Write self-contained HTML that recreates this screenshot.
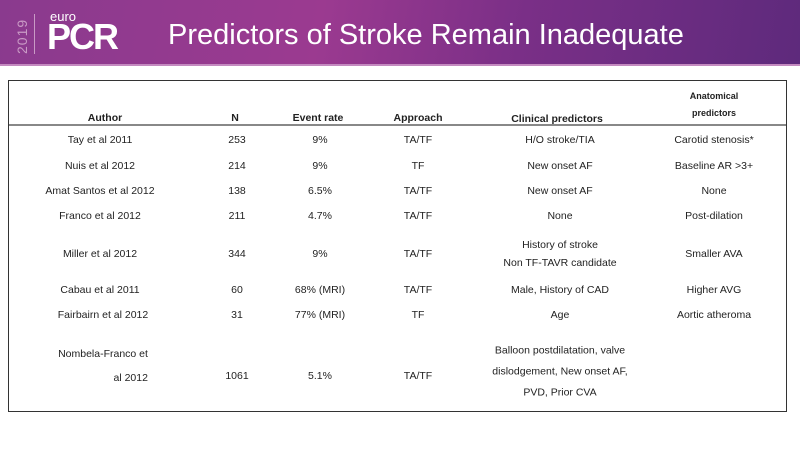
<!DOCTYPE html>
<html><head><meta charset="utf-8"><style>
body{margin:0;width:800px;height:450px;background:#fff;position:relative;overflow:hidden;font-family:"Liberation Sans",sans-serif;}
.ban{position:absolute;left:0;top:0;width:800px;height:66px;background:linear-gradient(100deg,#8a3a8e 0%,#9b3a90 40%,#7a2f87 65%,#5e2a7c 100%);}
.ban:after{content:"";position:absolute;left:0;top:64px;width:800px;height:2px;background:#c48ac0;}
.t{position:absolute;color:#fff;}
.box{position:absolute;left:8px;top:80px;width:779px;height:332px;border:1px solid #333;box-sizing:border-box;}
.c{position:absolute;font-size:10.5px;color:#222;text-align:center;transform:translate(-50%,-50%);white-space:nowrap;line-height:18px;}
.h{font-weight:bold;}
</style></head><body>
<div class="ban">
<div class="t" style="left:14px;font-size:14px;color:#c99ac5;transform:rotate(-90deg);transform-origin:0 0;top:54px;letter-spacing:1px">2019</div>
<div style="position:absolute;left:34px;top:14px;width:1px;height:40px;background:#c99ac5"></div>
<div class="t" style="left:50px;top:9px;font-size:13px">euro</div>
<div class="t" style="left:47px;top:19px;font-size:36px;font-weight:bold;letter-spacing:-2px;line-height:36px">PCR</div>
<div class="t" style="left:168px;top:17px;font-size:29px;font-weight:normal;line-height:36px">Predictors of Stroke Remain Inadequate</div>
</div>
<div class="box"></div>
<div style="position:absolute;left:9px;top:124px;width:777px;height:2px;background:#888"></div>
<div class="c h" style="left:105px;top:118px">Author</div>
<div class="c h" style="left:235px;top:118px">N</div>
<div class="c h" style="left:318px;top:118px">Event rate</div>
<div class="c h" style="left:418px;top:118px">Approach</div>
<div class="c h" style="left:557px;top:119px">Clinical predictors</div>
<div class="c h" style="left:714px;top:105px;font-size:9px;line-height:17px">Anatomical<br>predictors</div>

<div class="c" style="left:100px;top:140px">Tay et al 2011</div><div class="c" style="left:237px;top:140px">253</div><div class="c" style="left:320px;top:140px">9%</div><div class="c" style="left:418px;top:140px">TA/TF</div><div class="c" style="left:560px;top:140px">H/O stroke/TIA</div><div class="c" style="left:714px;top:140px">Carotid stenosis*</div>
<div class="c" style="left:100px;top:166px">Nuis et al 2012</div><div class="c" style="left:237px;top:166px">214</div><div class="c" style="left:320px;top:166px">9%</div><div class="c" style="left:418px;top:166px">TF</div><div class="c" style="left:560px;top:166px">New onset AF</div><div class="c" style="left:714px;top:166px">Baseline AR &gt;3+</div>
<div class="c" style="left:100px;top:191px">Amat Santos et al 2012</div><div class="c" style="left:237px;top:191px">138</div><div class="c" style="left:320px;top:191px">6.5%</div><div class="c" style="left:418px;top:191px">TA/TF</div><div class="c" style="left:560px;top:191px">New onset AF</div><div class="c" style="left:714px;top:191px">None</div>
<div class="c" style="left:100px;top:216px">Franco et al 2012</div><div class="c" style="left:237px;top:216px">211</div><div class="c" style="left:320px;top:216px">4.7%</div><div class="c" style="left:418px;top:216px">TA/TF</div><div class="c" style="left:560px;top:216px">None</div><div class="c" style="left:714px;top:216px">Post-dilation</div>
<div class="c" style="left:100px;top:254px">Miller et al 2012</div><div class="c" style="left:237px;top:254px">344</div><div class="c" style="left:320px;top:254px">9%</div><div class="c" style="left:418px;top:254px">TA/TF</div><div class="c" style="left:560px;top:254px">History of stroke<br>Non TF-TAVR candidate</div><div class="c" style="left:714px;top:254px">Smaller AVA</div>
<div class="c" style="left:100px;top:290px">Cabau et al 2011</div><div class="c" style="left:237px;top:290px">60</div><div class="c" style="left:320px;top:290px">68% (MRI)</div><div class="c" style="left:418px;top:290px">TA/TF</div><div class="c" style="left:560px;top:290px">Male, History of CAD</div><div class="c" style="left:714px;top:290px">Higher AVG</div>
<div class="c" style="left:103px;top:315px">Fairbairn et al 2012</div><div class="c" style="left:237px;top:315px">31</div><div class="c" style="left:320px;top:315px">77% (MRI)</div><div class="c" style="left:418px;top:315px">TF</div><div class="c" style="left:560px;top:315px">Age</div><div class="c" style="left:714px;top:315px">Aortic atheroma</div>
<div class="c" style="left:103px;top:366px;text-align:right;line-height:24px">Nombela-Franco et<br>al 2012</div><div class="c" style="left:237px;top:376px">1061</div><div class="c" style="left:320px;top:376px">5.1%</div><div class="c" style="left:418px;top:376px">TA/TF</div><div class="c" style="left:560px;top:372px;line-height:21px">Balloon postdilatation, valve<br>dislodgement, New onset AF,<br>PVD, Prior CVA</div>
</body></html>
